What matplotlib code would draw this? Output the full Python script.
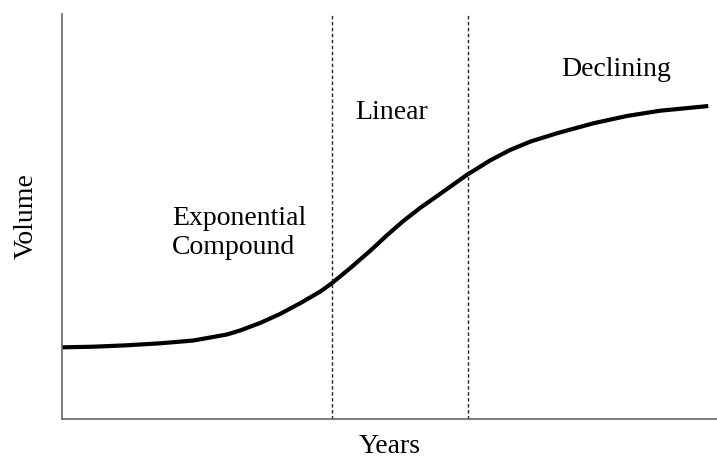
import matplotlib.pyplot as plt

plt.rcParams['font.family'] = ['Liberation Serif', 'DejaVu Serif']

# curve (years, volume), axes 0..100
years = [0, 4.78, 9.88, 14.96, 20.05, 25.15, 27.18, 30.23, 33.28, 36.34, 39.39,
         41.18, 43.97, 47.02, 49.57, 52.11, 54.66, 57.71, 59.74, 61.79, 65.34,
         68.40, 71.45, 75.53, 81.11, 86.21, 91.30, 98.67]
volume = [17.70, 17.85, 18.20, 18.69, 19.38, 20.86, 21.85, 23.70, 25.93, 28.57,
          31.43, 33.51, 37.21, 41.48, 45.31, 48.89, 52.10, 55.56, 57.90, 60.25,
          63.83, 66.42, 68.47, 70.54, 73.01, 74.81, 76.12, 77.28]
phase_bounds = [41.2, 62.0]

fig = plt.figure(figsize=(7.17, 4.61), dpi=100)
ax = fig.add_axes([0.0865, 0.0911, 0.9135, 0.8785])
ax.set_xlim(0, 100)
ax.set_ylim(0, 100)

ax.plot(years, volume, color='black', lw=3.0, solid_capstyle='butt',
        solid_joinstyle='round')
for xb in phase_bounds:
    ax.axvline(xb, color='#222222', lw=1.0, ls=(0, (2.5, 1.8)))

ax.text(16.8, 46.0, 'Exponential\nCompound', fontsize=20,
        ha='left', va='center', linespacing=1.2)
ax.text(44.7, 75.6, 'Linear', fontsize=20, ha='left', va='center')
ax.text(84.6, 86.2, 'Declining', fontsize=20, ha='center', va='center')

ax.set_xlabel('Years', fontsize=20, labelpad=11)
ax.set_ylabel('Volume', fontsize=20, labelpad=17)

ax.set_xticks([])
ax.set_yticks([])
for side in ['top', 'right']:
    ax.spines[side].set_visible(False)
for side in ['left', 'bottom']:
    ax.spines[side].set_color('#666666')
    ax.spines[side].set_linewidth(1.2)

fig.savefig('out.png', dpi=100)
